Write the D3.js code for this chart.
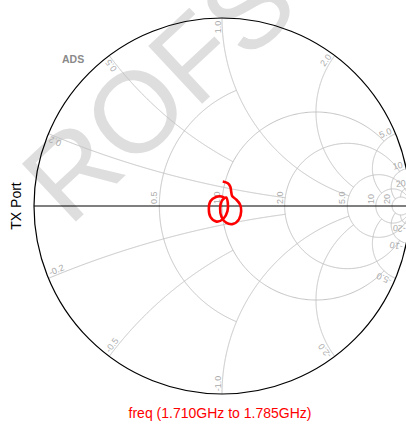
<!DOCTYPE html>
<html>
<head>
<meta charset="utf-8">
<script src="https://cdn.jsdelivr.net/npm/d3@7"></script>
<style>
  body { margin: 0; background: #fff; }
  svg { display: block; font-family: Arial, "Liberation Sans", sans-serif; }
</style>
</head>
<body>
<svg id="chart" width="406" height="424"></svg>
<script>
// S-parameter trace (reflection coefficient)
const gammaRe = [0.004, 0.031, 0.044, 0.049, 0.054, 0.075, 0.096, 0.102, 0.090, 0.058, 0.022, -0.003, -0.010,
                 -0.001, 0.022, 0.031, 0.029, 0.008, -0.029, -0.061, -0.070, -0.061, -0.032, -0.003, 0.013];
const gammaIm = [0.130, 0.121, 0.103, 0.076, 0.053, 0.035, 0.008, -0.027, -0.071, -0.096, -0.089, -0.057, -0.012,
                 0.027, 0.045, 0.016, -0.027, -0.067, -0.083, -0.059, -0.016, 0.027, 0.048, 0.051, 0.043];

// grid: constant resistance circles and constant reactance arcs
const resistanceValues = [0.5, 1, 2, 5, 10, 20];
const resistanceLabels = ["0.5", "1.0", "2.0", "5.0", "10", "20"];
const resistanceReach = [1, 5, 10, 1e6, 1e6, 1e6];   // drawn for |x| <= reach
const reactanceValues = [0.2, 0.5, 1, 2, 5, 10, 20];
const reactanceLabels = ["0.2", "0.5", "1.0", "2.0", "5.0", "10", "20"];
const reactanceReach = [2, 1, 5, 5, 10, 20, 20];     // drawn for r <= reach

const titleText = "freq (1.710GHz to 1.785GHz)";
const portName = "TX Port";

const svg = d3.select("#chart");
const cx = 222, cy = 206, R = 188;

const xs = d3.scaleLinear().domain([-1, 1]).range([cx - R, cx + R]);
const ys = d3.scaleLinear().domain([-1, 1]).range([cy + R, cy - R]);

// z -> gamma
function gamma(r, x) {
    const d = (r + 1) * (r + 1) + x * x;
    return [(r * r + x * x - 1) / d, 2 * x / d];
}

const line = d3.line().x(d => xs(d[0])).y(d => ys(d[1]));

// watermark
svg.append("text")
    .attr("transform", "translate(69,228) rotate(-43)")
    .attr("font-size", 115)
    .attr("fill", "#dedede")
    .text("ROFS");

const grid = svg.append("g")
    .attr("fill", "none")
    .attr("stroke", "#c4c4c4")
    .attr("stroke-width", 1);

// resistance circles
resistanceValues.forEach((r, i) => {
    const tMax = Math.atan(resistanceReach[i] / (r + 1));
    const pts = d3.range(0, 401).map(k => {
        const t = -tMax + 2 * tMax * k / 400;
        return gamma(r, (r + 1) * Math.tan(t));
    });
    grid.append("path").attr("d", line(pts));
});

// reactance arcs (both signs)
reactanceValues.forEach((x, i) => {
    const tMax = Math.atan(reactanceReach[i]);
    [x, -x].forEach(xx => {
        const pts = d3.range(0, 401).map(k => gamma(Math.tan(tMax * k / 400), xx));
        grid.append("path").attr("d", line(pts));
    });
});

// labels
const labels = svg.append("g")
    .attr("font-size", 9)
    .attr("fill", "#ababab");

resistanceValues.forEach((r, i) => {
    const px = xs((r - 1) / (r + 1)) - 2;
    labels.append("text")
        .attr("transform", `translate(${px},${cy - 2}) rotate(-90)`)
        .attr("text-anchor", "start")
        .text(resistanceLabels[i]);
});

reactanceValues.forEach((x, i) => {
    [1, -1].forEach(s => {
        const g = gamma(0, s * x);
        const phi = Math.atan2(g[1], g[0]);
        const deg = phi * 180 / Math.PI;
        const rot = s > 0 ? -deg : 180 - deg;
        const a = rot * Math.PI / 180;
        // glyph-up direction of the rotated text
        const ux = Math.sin(a), uy = -Math.cos(a);
        const px = xs(0.985 * g[0]) + ux * 1.5;
        const py = ys(0.985 * g[1]) + uy * 1.5;
        labels.append("text")
            .attr("transform", `translate(${px},${py}) rotate(${rot})`)
            .attr("text-anchor", s > 0 ? "end" : "start")
            .text((s > 0 ? "" : "-") + reactanceLabels[i]);
    });
});

// outer circle and real axis
svg.append("circle")
    .attr("cx", cx).attr("cy", cy).attr("r", R)
    .attr("fill", "none").attr("stroke", "#000").attr("stroke-width", 1.2);
svg.append("line")
    .attr("x1", xs(-1)).attr("x2", xs(1)).attr("y1", ys(0)).attr("y2", ys(0))
    .attr("stroke", "#000").attr("stroke-width", 1.2);

// trace
const traceData = gammaRe.map((v, i) => [v, gammaIm[i]]);
svg.append("path")
    .datum(traceData)
    .attr("d", d3.line().x(d => xs(d[0])).y(d => ys(d[1])).curve(d3.curveCatmullRom))
    .attr("fill", "none")
    .attr("stroke", "#ff0000")
    .attr("stroke-width", 2.6);

// texts
svg.append("text")
    .attr("x", 62).attr("y", 63)
    .attr("font-size", 10.5).attr("font-weight", "bold")
    .attr("fill", "#8a8a8a")
    .text("ADS");

svg.append("text")
    .attr("transform", `translate(21,${cy}) rotate(-90)`)
    .attr("text-anchor", "middle")
    .attr("font-size", 14)
    .text(portName);

svg.append("text")
    .attr("x", 220).attr("y", 418)
    .attr("text-anchor", "middle")
    .attr("font-size", 14)
    .attr("fill", "#ff0000")
    .text(titleText);
</script>
</body>
</html>
